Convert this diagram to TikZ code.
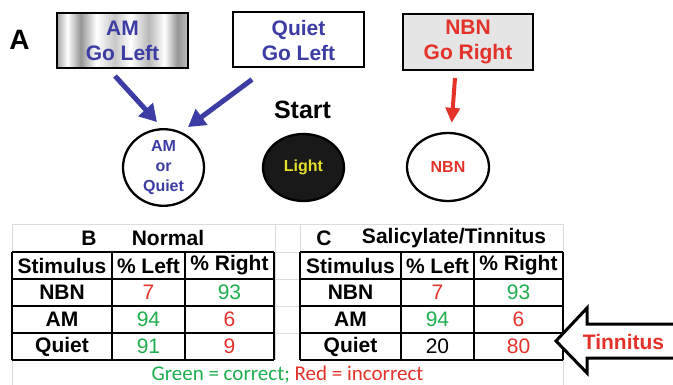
\documentclass[tikz,border=0pt]{standalone}
\usepackage{fontspec}
\setmainfont{Liberation Sans}
\newfontfamily\calfont{Carlito}
\usetikzlibrary{arrows.meta,shapes.geometric,calc}
\definecolor{dblue}{HTML}{3C3CA4}
\definecolor{dred}{HTML}{E3322A}
\definecolor{dgreen}{HTML}{1EAE4E}
\definecolor{lyel}{HTML}{E6DF2A}
\definecolor{gridc}{HTML}{DCDCDC}
\pgfdeclarehorizontalshading{metal}{100bp}{color(0bp)=(black!35); color(25bp)=(black!35); color(29bp)=(white); color(34bp)=(black!42); color(40bp)=(white); color(47bp)=(black!22); color(53bp)=(white); color(60bp)=(black!28); color(66bp)=(white); color(71bp)=(black!42); color(75bp)=(black!25); color(100bp)=(black!25)}
\tikzset{
  box/.style={draw=black, line width=2pt, minimum width=131pt, minimum height=55pt, inner sep=0pt, align=center, font=\fontsize{21}{25}\selectfont\bfseries},
  oval/.style={ellipse, draw=black, line width=2.3pt, minimum width=81pt, minimum height=67pt, inner sep=0pt, align=center, font=\fontsize{16}{20}\selectfont\bfseries},
  barrow/.style={draw=dblue, line width=5pt, -{Triangle[length=17pt,width=19pt]}},
  rarrow/.style={draw=dred, line width=4pt, -{Triangle[length=15pt,width=14pt]}},
  cell/.style={font=\fontsize{21}{21}\selectfont, inner sep=0pt},
  hcell/.style={font=\fontsize{21}{21}\selectfont\bfseries, inner sep=0pt},
  tline/.style={draw=black, line width=1.3pt},
  gline/.style={draw=gridc, line width=0.8pt},
}
\begin{document}
\begin{tikzpicture}[x=1pt,y=-1pt]
\useasboundingbox (0,0) rectangle (673,385);
% ---------- Part A ----------
\node[font=\fontsize{28}{28}\selectfont\bfseries] (lblA) at (19.5,40) {A};
\node[box, shading=metal, shading angle=0, text=dblue] (amb) at (122.5,40.5) {AM\\Go Left};
\node[box, fill=white, text=dblue] (qb) at (298.5,40) {Quiet\\Go Left};
\node[box, fill=black!10, text=dred, minimum width=130pt, minimum height=56pt] (nbb) at (468,42) {NBN\\Go Right};
\node[font=\fontsize{25}{25}\selectfont\bfseries] (start) at (302.5,110) {Start};
\node[oval, text=dblue] (aq) at (163.5,167.5) {AM\\or\\Quiet};
\node[oval, fill=black!90, text=lyel] (light) at (303.5,167.5) {Light};
\node[oval, text=dred, minimum width=82pt, minimum height=68pt] (nbe) at (448,167) {NBN};
\draw[barrow] ($(amb.south)+(-7.5,7)$) -- ($(aq.north)+(-6.5,-6)$);
\draw[barrow] ($(qb.south)+(-46.5,11)$) -- ($(aq.north)+(24.5,-1)$);
\draw[rarrow] ($(nbb.south)+(-13,7)$) -- ($(nbe.north)+(3.7,-9)$);
% ---------- spreadsheet grid ----------
\draw[gline] (12,224) -- (563,224);
\draw[gline] (12,224) -- (12,385);
\draw[gline] (275,224) -- (275,360);
\draw[gline] (300,224) -- (300,252);
\draw[gline] (563,224) -- (563,385);
\foreach \yy in {252,279,306,333} \draw[gline] (275,\yy) -- (300,\yy);
% ---------- Table B ----------
\foreach \x in {12,112,185,274} \draw[tline] (\x,252) -- (\x,360);
\foreach \yy in {252,279,306,333,360} \draw[tline] (12,\yy) -- (274,\yy);
\node[hcell] (bB) at (89,238) {B};
\node[hcell] (bNormal) at (168,238) {Normal};
\node[hcell] (bh1) at (62,265.5) {Stimulus};
\node[hcell] (bh2) at (148.5,265.5) {\% Left};
\node[hcell] (bh3) at (229.5,265.5) {\% Right};
\node[hcell] (br1) at (62,292.5) {NBN};
\node[cell, text=dred] (br1l) at (148.5,292.5) {7};
\node[cell, text=dgreen] (br1r) at (229.5,292.5) {93};
\node[hcell] (br2) at (62,319.5) {AM};
\node[cell, text=dgreen] (br2l) at (148.5,319.5) {94};
\node[cell, text=dred] (br2r) at (229.5,319.5) {6};
\node[hcell] (br3) at (62,346.5) {Quiet};
\node[cell, text=dgreen] (br3l) at (148.5,346.5) {91};
\node[cell, text=dred] (br3r) at (229.5,346.5) {9};
% ---------- Table C ----------
\foreach \x in {300,401,474,563} \draw[tline] (\x,252) -- (\x,360);
\foreach \yy in {252,279,306,333,360} \draw[tline] (300,\yy) -- (563,\yy);
\node[hcell] (cC) at (324,238) {C};
\node[hcell] (cSal) at (454,238) {Salicylate/Tinnitus};
\node[hcell] (ch1) at (350.5,265.5) {Stimulus};
\node[hcell] (ch2) at (437.5,265.5) {\% Left};
\node[hcell] (ch3) at (518.5,265.5) {\% Right};
\node[hcell] (cr1) at (350.5,292.5) {NBN};
\node[cell, text=dred] (cr1l) at (437.5,292.5) {7};
\node[cell, text=dgreen] (cr1r) at (518.5,292.5) {93};
\node[hcell] (cr2) at (350.5,319.5) {AM};
\node[cell, text=dgreen] (cr2l) at (437.5,319.5) {94};
\node[cell, text=dred] (cr2r) at (518.5,319.5) {6};
\node[hcell] (cr3) at (350.5,346.5) {Quiet};
\node[cell, text=black] (cr3l) at (437.5,346.5) {20};
\node[cell, text=dred] (cr3r) at (518.5,346.5) {80};
% ---------- legend ----------
\node[font=\calfont\fontsize{21}{21}\selectfont, inner sep=0pt] (legend) at (287.5,375) {\textcolor{dgreen}{Green = correct;} \textcolor{dred}{Red = incorrect}};
% ---------- Tinnitus arrow ----------
\draw[draw=black, fill=white, line width=3pt, line join=miter] (556,341) -- (587,308) -- (587,324) -- (690,324) -- (690,358) -- (587,358) -- (587,373) -- cycle;
\node[font=\fontsize{21}{21}\selectfont\bfseries, text=dred, inner sep=0pt] (tinn) at (623.5,341.5) {Tinnitus};
\end{tikzpicture}
\end{document}
